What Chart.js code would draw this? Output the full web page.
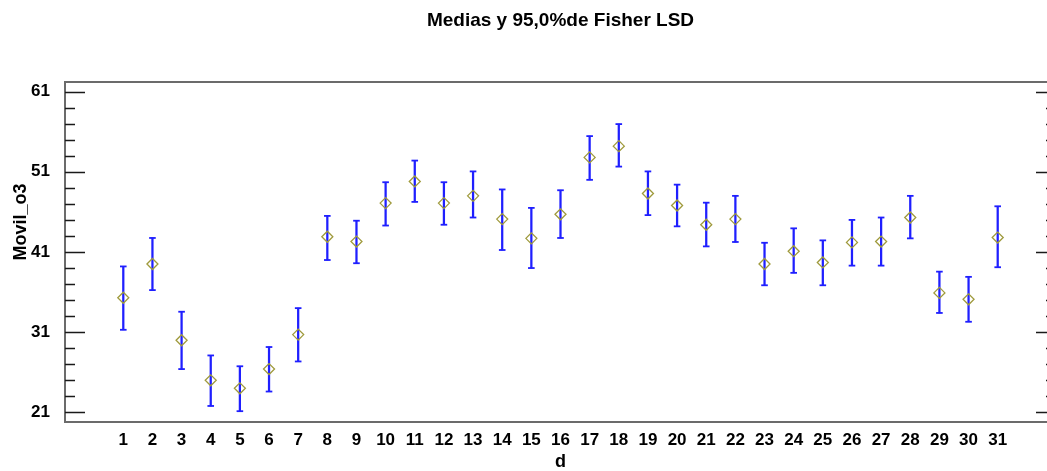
<!DOCTYPE html>
<html>
<head>
<meta charset="utf-8">
<script src="https://cdn.jsdelivr.net/npm/chart.js@4.4.1/dist/chart.umd.min.js"></script>
<style>
  html, body { margin: 0; padding: 0; overflow: hidden; background: #fff; }
  #wrap { position: absolute; left: 0; top: 0; width: 1070px; height: 471px; }
</style>
</head>
<body>
<div id="wrap"><canvas id="c" width="1070" height="471"></canvas></div>
<script>
// Day of the month (factor levels)
const days = [1,2,3,4,5,6,7,8,9,10,11,12,13,14,15,16,17,18,19,20,21,22,23,24,25,26,27,28,29,30,31];
// Mean of Movil_o3 per day
const means = [35.3,39.5,30.0,25.0,24.0,26.4,30.7,42.9,42.3,47.1,49.8,47.1,48.0,45.1,42.7,45.7,52.8,54.2,48.3,46.8,44.4,45.1,39.5,41.1,39.7,42.2,42.3,45.3,35.9,35.1,42.8];
// 95% Fisher LSD interval limits
const lower = [31.3,36.25,26.4,21.8,21.15,23.6,27.35,40.0,39.6,44.3,47.25,44.4,45.3,41.25,39.0,42.75,50.0,51.65,45.6,44.2,41.7,42.25,36.85,38.4,36.85,39.3,39.3,42.7,33.4,32.3,39.1];
const upper = [39.2,42.75,33.55,28.1,26.75,29.15,34.0,45.5,44.9,49.7,52.4,49.7,51.05,48.8,46.5,48.7,55.45,56.95,51.05,49.4,47.15,48.0,42.15,43.95,42.45,45.0,45.3,48.0,38.55,37.9,46.7];
// Y axis tick positions (every 2) and the labelled ones
const yTicks = [21,23,25,27,29,31,33,35,37,39,41,43,45,47,49,51,53,55,57,59,61];
const yTickLabels = ['21','31','41','51','61'];

const FONT = "'Liberation Sans', Arial, Helvetica, sans-serif";
const BLUE = '#1f1fff';
const OLIVE = '#9f9a3c';

// Frame, inside tick marks on both sides and the rotated Y title
const framePlugin = {
  id: 'frameTicks',
  afterDraw(chart) {
    const { ctx, chartArea: a, scales } = chart;
    const y = scales.y;
    ctx.save();
    ctx.strokeStyle = '#6b6b6b';
    ctx.lineWidth = 2;
    ctx.strokeRect(a.left, a.top, a.right - a.left, a.bottom - a.top);
    ctx.strokeStyle = '#1a1a1a';
    ctx.lineWidth = 1.6;
    y.ticks.forEach(t => {
      const py = Math.round(y.getPixelForValue(t.value)) + 0.5;
      const len = yTickLabels.includes(String(t.value)) ? 20 : 10;
      ctx.beginPath();
      ctx.moveTo(a.left, py); ctx.lineTo(a.left + len, py);
      ctx.moveTo(a.right, py); ctx.lineTo(a.right - len, py);
      ctx.stroke();
    });
    ctx.translate(21, 222);
    ctx.rotate(-Math.PI / 2);
    ctx.fillStyle = '#000';
    ctx.font = 'bold 18px ' + FONT;
    ctx.textAlign = 'center';
    ctx.textBaseline = 'middle';
    ctx.fillText('Movil_o3', 0, 0);
    ctx.restore();
  }
};

const meanPts = days.map((d, i) => ({ x: d, y: means[i] }));
const capPts = days.map((d, i) => ({ x: d, y: lower[i] })).concat(days.map((d, i) => ({ x: d, y: upper[i] })));
const barPts = days.map((d, i) => ({ x: d, y: [lower[i], upper[i]] }));

new Chart(document.getElementById('c'), {
  type: 'scatter',
  data: {
    datasets: [
      {
        type: 'scatter', data: meanPts, showLine: false,
        pointStyle: 'rectRot', pointRadius: 5.5, pointHoverRadius: 5.5,
        pointBorderColor: OLIVE, pointBackgroundColor: 'rgba(0,0,0,0)', pointBorderWidth: 1.3
      },
      {
        type: 'scatter', data: capPts, showLine: false,
        pointStyle: 'line', pointRadius: 3.3, pointHoverRadius: 3.3,
        pointBorderColor: BLUE, pointBorderWidth: 1.8
      },
      {
        type: 'bar', data: barPts, backgroundColor: BLUE, borderWidth: 0,
        barThickness: 1.6, grouped: false
      }
    ]
  },
  options: {
    responsive: false,
    animation: false,
    events: [],
    layout: { padding: { left: 0, right: 14, top: 0, bottom: 0 } },
    plugins: {
      legend: { display: false },
      tooltip: { enabled: false },
      title: {
        display: true, text: 'Medias y 95,0%de Fisher LSD', fullSize: false,
        color: '#000', font: { family: FONT, size: 19, weight: 'bold', lineHeight: 1.2 },
        padding: { top: 9.5, bottom: 49.7 }
      }
    },
    scales: {
      x: {
        type: 'linear', min: -1, max: 33, offset: false,
        afterBuildTicks: s => { s.ticks = days.map(d => ({ value: d })); },
        afterFit: s => { s.height = 49; },
        grid: { display: false, drawTicks: false, offset: false },
        border: { display: false },
        ticks: { color: '#000', font: { family: FONT, size: 17, weight: 'bold' }, padding: 8, autoSkip: false, maxRotation: 0 },
        title: { display: true, text: 'd', color: '#000', font: { family: FONT, size: 18, weight: 'bold', lineHeight: 1 }, padding: 0 }
      },
      y: {
        type: 'linear', min: 19.8, max: 62.2,
        afterBuildTicks: s => { s.ticks = yTicks.map(v => ({ value: v })); },
        afterFit: s => { s.width = 65; },
        grid: { display: false, drawTicks: false },
        border: { display: false },
        ticks: {
          color: '#000', font: { family: FONT, size: 17, weight: 'bold' }, padding: 15, autoSkip: false,
          callback: v => (yTickLabels.includes(String(v)) ? String(v) : '')
        }
      }
    }
  },
  plugins: [framePlugin]
});
</script>
</body>
</html>
